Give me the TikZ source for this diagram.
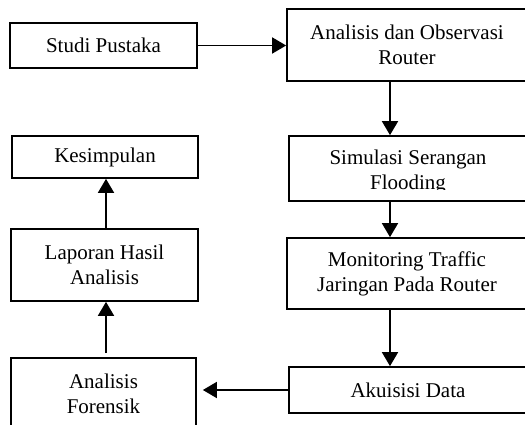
\documentclass[tikz,border=0pt]{standalone}
\usepackage{fontspec}
\setmainfont{Liberation Serif}
\usetikzlibrary{arrows.meta}
\begin{document}
\begin{tikzpicture}[x=1pt,y=-1pt,
  box/.style={draw, line width=1.7pt, align=center, inner sep=0pt,
    font=\fontsize{21}{25}\selectfont},
  txt/.style={align=center, inner sep=0pt, font=\fontsize{21}{25}\selectfont},
  arr/.style={line width=1.7pt, -{Triangle[length=14pt,width=16pt]}}]
\useasboundingbox (0,0) rectangle (525,425);
\clip (0,0) rectangle (525,425);
\coordinate (colR) at (390,0);
\coordinate (colL) at (106,0);
\node[box, minimum width=187pt, minimum height=45pt] (sp) at (103.5,45.5) {Studi Pustaka};
\node[box, minimum width=240pt, minimum height=72pt] (ao) at (407,45) {Analisis dan Observasi\\Router};
\node[box, minimum width=238pt, minimum height=65pt] (ss) at (408,168.5) {};
\begin{scope}
  \clip (280,130) rectangle (530,189.5);
  \node[txt] (sst) at (408,172) {Simulasi Serangan\\Flooding};
\end{scope}
\node[box, minimum width=240pt, minimum height=71pt] (mt) at (407,273.5) {Monitoring Traffic\\Jaringan Pada Router};
\node[box, minimum width=238pt, minimum height=46pt] (ad) at (408,390) {Akuisisi Data};
\node[box, minimum width=186pt, minimum height=42pt] (ks) at (105,157) {Kesimpulan};
\node[box, minimum width=187pt, minimum height=72pt] (lh) at (104.5,265) {Laporan Hasil\\Analisis};
\node[box, minimum width=185pt, minimum height=72pt] (af) at (103.5,394) {Analisis\\Forensik};
\draw[arr] (sp.east) -- (sp.east -| ao.west);
\draw[arr] (ao.south -| colR) -- (ss.north -| colR);
\draw[arr] (ss.south -| colR) -- (mt.north -| colR);
\draw[arr] (mt.south -| colR) -- (ad.north -| colR);
\draw[arr, shorten >=6pt] (ad.west) -- (ad.west -| af.east);
\draw[arr, shorten <=4pt] (af.north -| colL) -- (lh.south -| colL);
\draw[arr] (lh.north -| colL) -- (ks.south -| colL);
\end{tikzpicture}
\end{document}
